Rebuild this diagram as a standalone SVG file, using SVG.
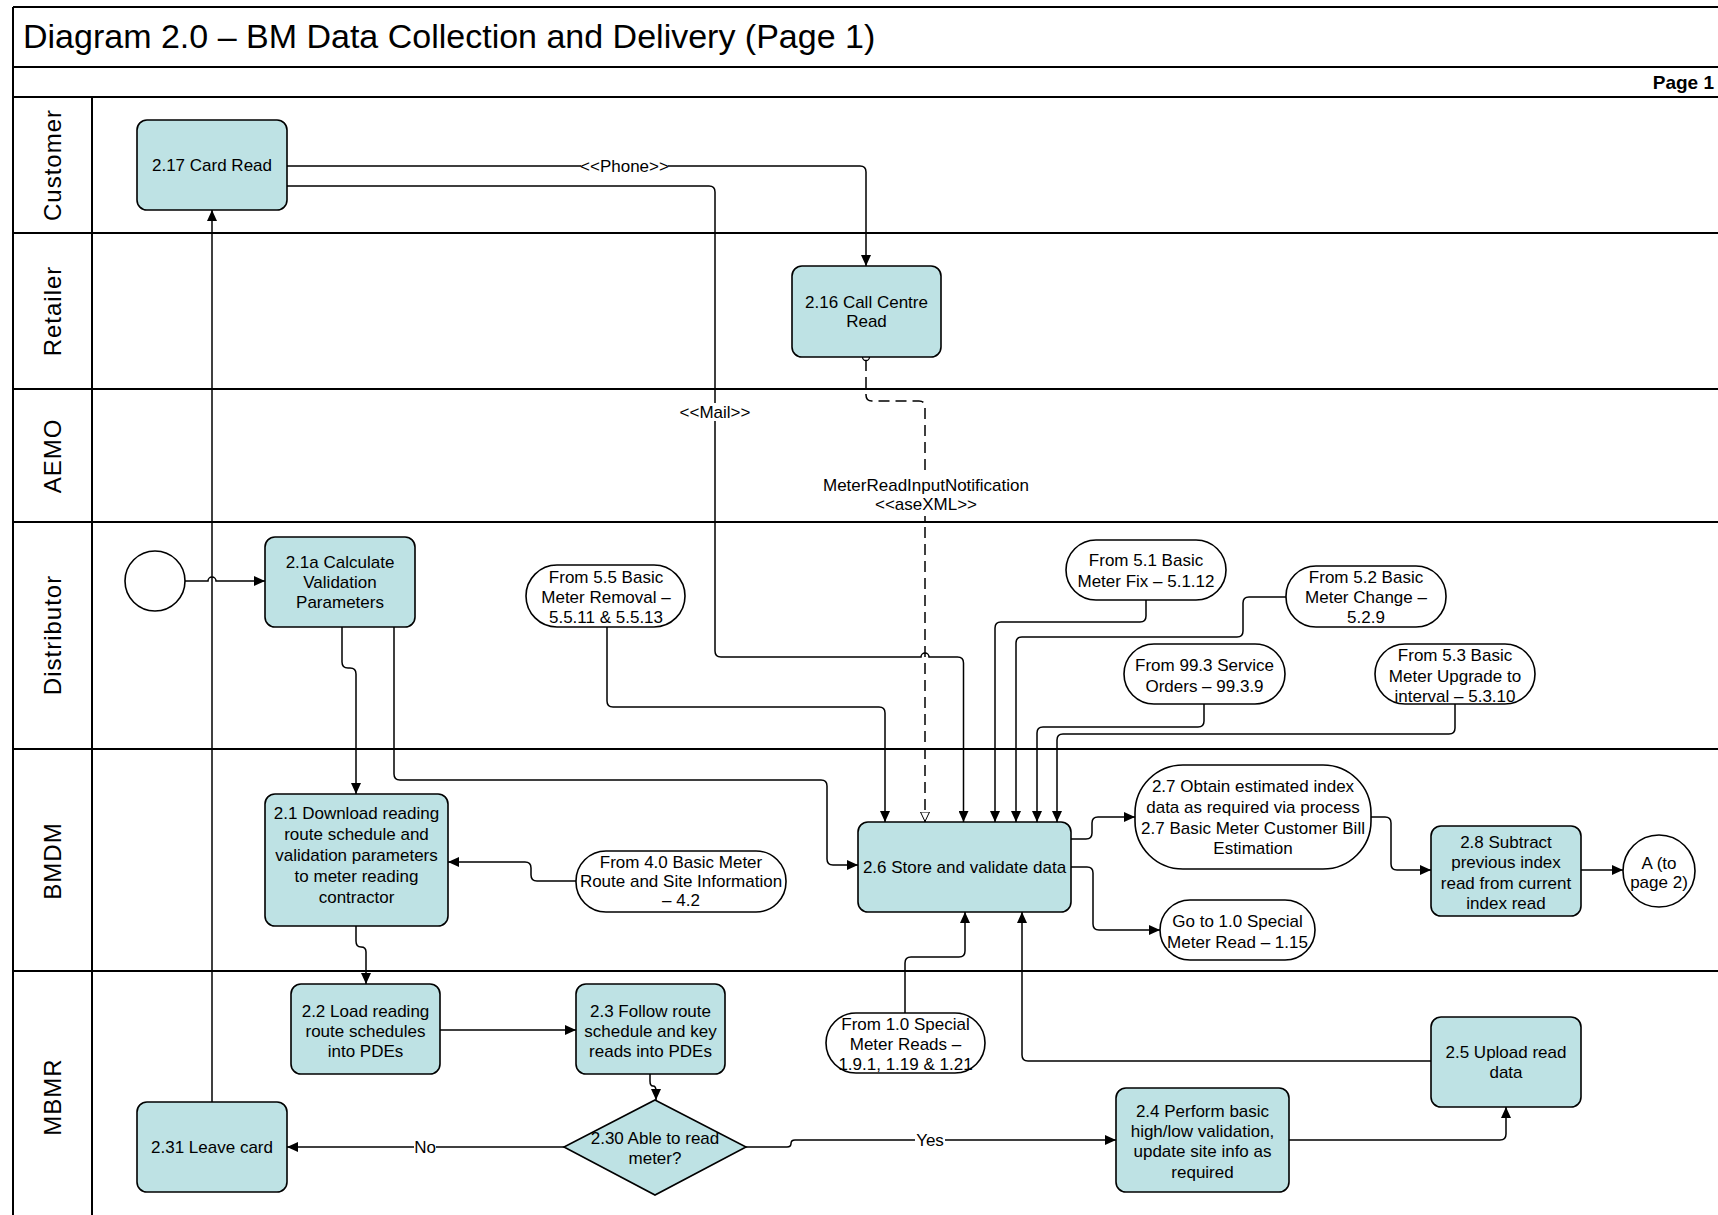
<svg xmlns="http://www.w3.org/2000/svg" width="1718" height="1215" viewBox="0 0 1718 1215">
<style>
.t{font-family:"Liberation Sans",Arial,sans-serif;font-size:17px;text-anchor:middle;fill:#000}
.lane{font-family:"Liberation Sans",Arial,sans-serif;font-size:24px;text-anchor:middle;fill:#000;letter-spacing:1px}
.proc{fill:#bee2e4;stroke:#000;stroke-width:1.6}
.term{fill:#fff;stroke:#000;stroke-width:1.6}
.c{fill:none;stroke:#000;stroke-width:1.5}
.a{marker-end:url(#arr)}
.frame{stroke:#000;stroke-width:2;fill:none}
.lbl{fill:#fff}
</style>
<defs>
<marker id="arr" markerUnits="userSpaceOnUse" markerWidth="12" markerHeight="10" refX="11" refY="5" orient="auto"><path d="M0,0 L11,5 L0,10 z" fill="#000"/></marker>
<marker id="oarr" markerUnits="userSpaceOnUse" markerWidth="12" markerHeight="11" refX="10.5" refY="5" orient="auto"><path d="M0.5,0.5 L10,5 L0.5,9.5 z" fill="#fff" stroke="#000" stroke-width="1"/></marker>
</defs>
<rect width="1718" height="1215" fill="#fff"/>
<g id="frame">
<line class="frame" x1="13" y1="7" x2="1718" y2="7"/>
<line class="frame" x1="13" y1="7" x2="13" y2="1215"/>
<line class="frame" x1="13" y1="67" x2="1718" y2="67" stroke-width="2.5"/>
<line class="frame" x1="13" y1="97" x2="1718" y2="97" stroke-width="2.5"/>
<line class="frame" x1="13" y1="233" x2="1718" y2="233"/>
<line class="frame" x1="13" y1="389" x2="1718" y2="389"/>
<line class="frame" x1="13" y1="522" x2="1718" y2="522"/>
<line class="frame" x1="13" y1="749" x2="1718" y2="749"/>
<line class="frame" x1="13" y1="971" x2="1718" y2="971"/>
<line class="frame" x1="92" y1="97" x2="92" y2="1215" stroke-width="1.5"/>
<text x="23" y="48" font-family="Liberation Sans, Arial, sans-serif" font-size="34">Diagram 2.0 – BM Data Collection and Delivery (Page 1)</text>
<text x="1714" y="89" font-family="Liberation Sans, Arial, sans-serif" font-size="19" font-weight="bold" text-anchor="end">Page 1</text>
</g>
<g id="lanes">
<text class="lane" transform="translate(61,165) rotate(-90)">Customer</text>
<text class="lane" transform="translate(61,311) rotate(-90)">Retailer</text>
<text class="lane" transform="translate(61,456) rotate(-90)">AEMO</text>
<text class="lane" transform="translate(61,635) rotate(-90)">Distributor</text>
<text class="lane" transform="translate(61,861) rotate(-90)">BMDM</text>
<text class="lane" transform="translate(61,1097) rotate(-90)">MBMR</text>
</g>
<g id="connectors">
<path class="c a" d="M287 166 H860 Q866 166 866 172 V266"/>
<path class="c a" d="M287 186 H709 Q715 186 715 192 V651 Q715 657 721 657 H921 A4 4 0 0 1 929 657 H957.5 Q963.5 657 963.5 663 V822"/>
<path class="c" d="M866 360 V395 Q866 401 872 401 H919 Q925 401 925 407 V822" stroke-dasharray="11,6" marker-end="url(#oarr)"/>
<circle cx="866" cy="357" r="3.5" fill="#fff" stroke="#000" stroke-width="1.3"/>
<path class="c a" d="M185 581 H208 A4 4 0 0 1 216 581 H265"/>
<path class="c a" d="M342 627 V662 Q342 668 348 668 H350 Q356 668 356 674 V794"/>
<path class="c a" d="M394 627 V774 Q394 780 400 780 H821 Q827 780 827 786 V859 Q827 865 833 865 H858"/>
<path class="c a" d="M576 881 H537 Q531 881 531 875 V868 Q531 862 525 862 H448"/>
<path class="c a" d="M356 926 V941 Q356 947 361 947 Q366 947 366 952 V984"/>
<path class="c a" d="M440 1030 H576"/>
<path class="c a" d="M650 1074 V1081 Q650 1086 653 1086 Q656 1086 656 1091 V1100"/>
<path class="c a" d="M564 1147 H287"/>
<path class="c a" d="M212 1102 V210"/>
<path class="c a" d="M746 1147 H787 Q791 1147 791 1143.5 Q791 1140 795 1140 H1116"/>
<path class="c a" d="M1289 1140 H1500 Q1506 1140 1506 1134 V1107"/>
<path class="c a" d="M1431 1061 H1028 Q1022 1061 1022 1055 V912"/>
<path class="c a" d="M905 1013 V963 Q905 957 911 957 H959 Q965 957 965 951 V912"/>
<path class="c a" d="M1071 839 H1086 Q1092 839 1092 833 V823 Q1092 817 1098 817 H1135"/>
<path class="c a" d="M1371 817 H1385 Q1391 817 1391 823 V864 Q1391 870 1397 870 H1431"/>
<path class="c a" d="M1581 870 H1623"/>
<path class="c a" d="M1071 867 H1087 Q1093 867 1093 873 V924 Q1093 930 1099 930 H1160"/>
<path class="c a" d="M607 627 V701 Q607 707 613 707 H879 Q885 707 885 713 V822"/>
<path class="c a" d="M1146 600 V616 Q1146 622 1140 622 H1001 Q995 622 995 628 V822"/>
<path class="c a" d="M1286 597 H1249 Q1243 597 1243 603 V631 Q1243 637 1237 637 H1022 Q1016 637 1016 643 V822"/>
<path class="c a" d="M1204 704 V721 Q1204 727 1198 727 H1043 Q1037 727 1037 733 V822"/>
<path class="c a" d="M1455 704 V728 Q1455 734 1449 734 H1063 Q1057 734 1057 740 V822"/>
<g id="labels">
<rect class="lbl" x="581" y="157" width="87" height="18"/>
<text class="t" x="624.5" y="172">&lt;&lt;Phone&gt;&gt;</text>
<rect class="lbl" x="681" y="403" width="68" height="18"/>
<text class="t" x="715" y="418">&lt;&lt;Mail&gt;&gt;</text>
<rect class="lbl" x="823" y="474" width="206" height="42"/>
<text class="t" x="926" y="491">MeterReadInputNotification</text>
<text class="t" x="926" y="510">&lt;&lt;aseXML&gt;&gt;</text>
<rect class="lbl" x="414" y="1138" width="22" height="18"/>
<text class="t" x="425" y="1153">No</text>
<rect class="lbl" x="915" y="1131" width="30" height="18"/>
<text class="t" x="930" y="1146">Yes</text>
</g>
</g>
<g id="n217"><rect class="proc" x="137" y="120" width="150" height="90" rx="10"/><text class="t" x="212" y="171">2.17 Card Read</text></g>
<g id="n216"><rect class="proc" x="792" y="266" width="149" height="91" rx="10"/><text class="t" x="866.5" y="308">2.16 Call Centre</text><text class="t" x="866.5" y="327">Read</text></g>
<g id="start"><circle cx="155" cy="581" r="30" fill="#fff" stroke="#000" stroke-width="1.6"/></g>
<g id="n21a"><rect class="proc" x="265" y="537" width="150" height="90" rx="10"/><text class="t" x="340" y="568">2.1a Calculate</text><text class="t" x="340" y="588">Validation</text><text class="t" x="340" y="608">Parameters</text></g>
<g id="n55"><rect class="term" x="526" y="565" width="159" height="62" rx="31"/><text class="t" x="606" y="583">From 5.5 Basic</text><text class="t" x="606" y="603">Meter Removal –</text><text class="t" x="606" y="623">5.5.11 &amp; 5.5.13</text></g>
<g id="n51"><rect class="term" x="1066" y="540" width="160" height="60" rx="30"/><text class="t" x="1146" y="566">From 5.1 Basic</text><text class="t" x="1146" y="587">Meter Fix – 5.1.12</text></g>
<g id="n52"><rect class="term" x="1286" y="566" width="160" height="61" rx="30"/><text class="t" x="1366" y="583">From 5.2 Basic</text><text class="t" x="1366" y="603">Meter Change –</text><text class="t" x="1366" y="623">5.2.9</text></g>
<g id="n993"><rect class="term" x="1124" y="644" width="161" height="60" rx="30"/><text class="t" x="1204.5" y="671">From 99.3 Service</text><text class="t" x="1204.5" y="692">Orders – 99.3.9</text></g>
<g id="n53"><rect class="term" x="1375" y="644" width="160" height="60" rx="30"/><text class="t" x="1455" y="661">From 5.3 Basic</text><text class="t" x="1455" y="682">Meter Upgrade to</text><text class="t" x="1455" y="702">interval – 5.3.10</text></g>
<g id="n21"><rect class="proc" x="265" y="794" width="183" height="132" rx="10"/><text class="t" x="356.5" y="819">2.1 Download reading</text><text class="t" x="356.5" y="840">route schedule and</text><text class="t" x="356.5" y="861">validation parameters</text><text class="t" x="356.5" y="882">to meter reading</text><text class="t" x="356.5" y="903">contractor</text></g>
<g id="n40"><rect class="term" x="576" y="851" width="210" height="61" rx="30"/><text class="t" x="681" y="868">From 4.0 Basic Meter</text><text class="t" x="681" y="887">Route and Site Information</text><text class="t" x="681" y="906">– 4.2</text></g>
<g id="n26"><rect class="proc" x="858" y="822" width="213" height="90" rx="10"/><text class="t" x="964.5" y="873">2.6 Store and validate data</text></g>
<g id="n27"><rect class="term" x="1135" y="765" width="236" height="104" rx="48"/><text class="t" x="1253" y="792">2.7 Obtain estimated index</text><text class="t" x="1253" y="813">data as required via process</text><text class="t" x="1253" y="834">2.7 Basic Meter Customer Bill</text><text class="t" x="1253" y="854">Estimation</text></g>
<g id="n28"><rect class="proc" x="1431" y="826" width="150" height="90" rx="10"/><text class="t" x="1506" y="848">2.8 Subtract</text><text class="t" x="1506" y="868">previous index</text><text class="t" x="1506" y="889">read from current</text><text class="t" x="1506" y="909">index read</text></g>
<g id="nA"><circle cx="1659" cy="871" r="36" fill="#fff" stroke="#000" stroke-width="1.6"/><text class="t" x="1659" y="869">A (to</text><text class="t" x="1659" y="888">page 2)</text></g>
<g id="ngo10"><rect class="term" x="1160" y="900" width="155" height="60" rx="30"/><text class="t" x="1237.5" y="927">Go to 1.0 Special</text><text class="t" x="1237.5" y="948">Meter Read – 1.15</text></g>
<g id="n22"><rect class="proc" x="291" y="984" width="149" height="90" rx="10"/><text class="t" x="365.5" y="1017">2.2 Load reading</text><text class="t" x="365.5" y="1037">route schedules</text><text class="t" x="365.5" y="1057">into PDEs</text></g>
<g id="n23"><rect class="proc" x="576" y="984" width="149" height="90" rx="10"/><text class="t" x="650.5" y="1017">2.3 Follow route</text><text class="t" x="650.5" y="1037">schedule and key</text><text class="t" x="650.5" y="1057">reads into PDEs</text></g>
<g id="n10"><rect class="term" x="826" y="1013" width="159" height="60" rx="30"/><text class="t" x="905.5" y="1030">From 1.0 Special</text><text class="t" x="905.5" y="1050">Meter Reads –</text><text class="t" x="905.5" y="1070">1.9.1, 1.19 &amp; 1.21</text></g>
<g id="n25"><rect class="proc" x="1431" y="1017" width="150" height="90" rx="10"/><text class="t" x="1506" y="1058">2.5 Upload read</text><text class="t" x="1506" y="1078">data</text></g>
<g id="n230"><path class="proc" d="M655 1100 L746 1147 L655 1195 L564 1147 Z"/><text class="t" x="655" y="1144">2.30 Able to read</text><text class="t" x="655" y="1164">meter?</text></g>
<g id="n231"><rect class="proc" x="137" y="1102" width="150" height="90" rx="10"/><text class="t" x="212" y="1153">2.31 Leave card</text></g>
<g id="n24"><rect class="proc" x="1116" y="1088" width="173" height="104" rx="10"/><text class="t" x="1202.5" y="1117">2.4 Perform basic</text><text class="t" x="1202.5" y="1137">high/low validation,</text><text class="t" x="1202.5" y="1157">update site info as</text><text class="t" x="1202.5" y="1178">required</text></g>
</svg>
